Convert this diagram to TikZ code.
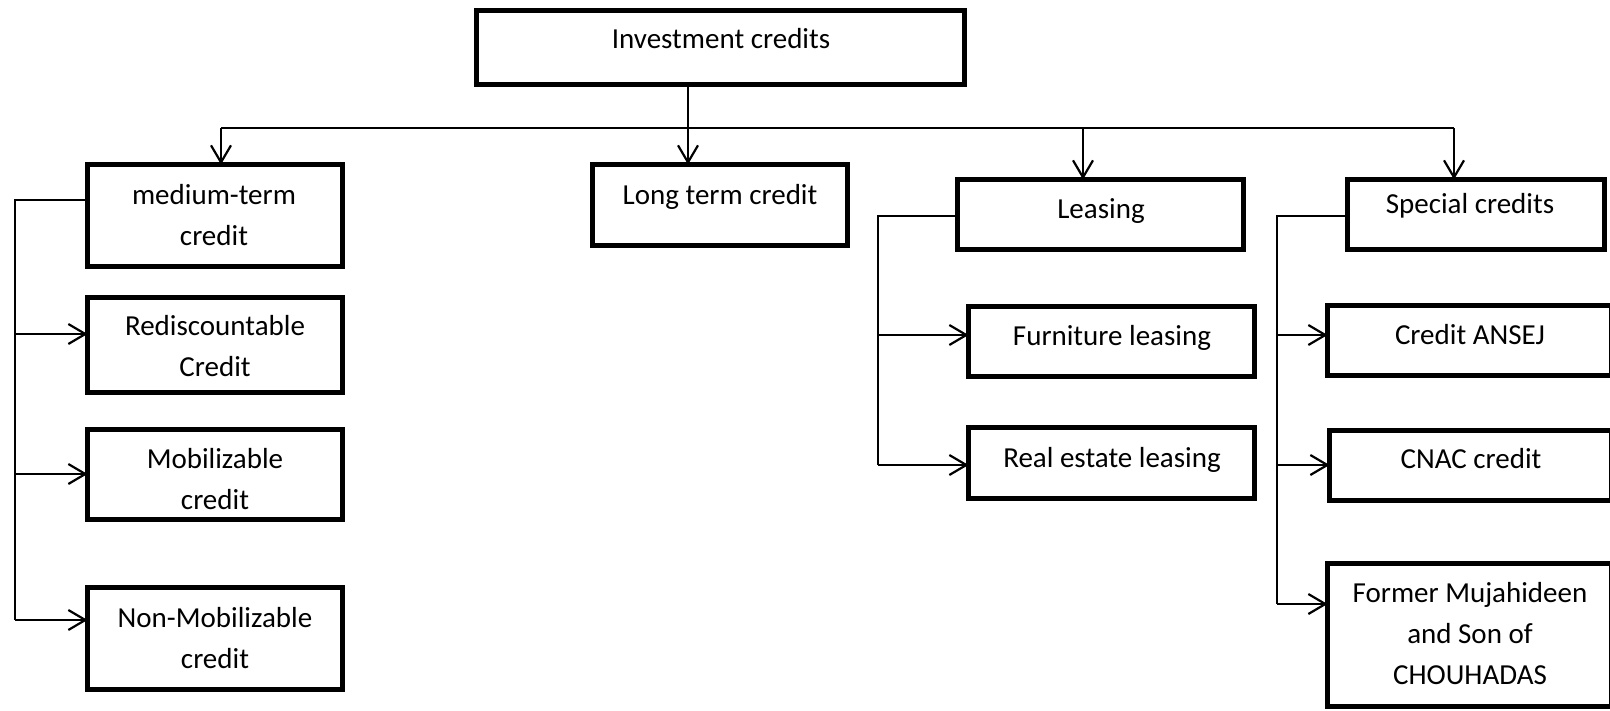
\documentclass[tikz,border=0pt]{standalone}
\usepackage{fontspec}
\setmainfont{Carlito}
\usetikzlibrary{arrows.meta}

% multi-line label whose reference point is the first baseline
\newcommand{\txtlines}[1]{\begin{tabular}[t]{@{}c@{}}#1\end{tabular}}

\tikzset{
  box/.style={draw=black, line width=5pt, inner sep=0pt, outer sep=0pt, fill=white},
  lbl/.style={inner sep=0pt, anchor=base, font=\fontsize{29}{41}\selectfont},
  link/.style={draw=black, line width=1.6pt},
  arr/.style={draw=black, line width=2.2pt,
    -{Straight Barb[length=17pt, width=20pt, line width=2.2pt]}},
}

\begin{document}
\begin{tikzpicture}[x=1pt, y=-1pt]
\useasboundingbox (0,0) rectangle (1610,710);

% ---- boxes ----
\node[box, minimum width=488pt, minimum height=74pt] (inv) at (720.5,47.5) {};
\node[box, minimum width=255pt, minimum height=102pt] (med) at (215,215.5) {};
\node[box, minimum width=255pt, minimum height=81pt] (long) at (720,205) {};
\node[box, minimum width=286pt, minimum height=70pt] (leas) at (1100.5,214.5) {};
\node[box, minimum width=257pt, minimum height=70pt] (spec) at (1476,214.5) {};

\node[box, minimum width=255pt, minimum height=95pt] (redisc) at (215,345) {};
\node[box, minimum width=255pt, minimum height=90pt] (mobil) at (215,474.5) {};
\node[box, minimum width=255pt, minimum height=102pt] (nonmob) at (215,638.5) {};

\node[box, minimum width=286pt, minimum height=70pt] (furn) at (1111.5,341.5) {};
\node[box, minimum width=286pt, minimum height=71pt] (real) at (1111.5,463) {};

\node[box, minimum width=284pt, minimum height=70pt] (ansej) at (1469.5,340.5) {};
\node[box, minimum width=282pt, minimum height=70pt] (cnac) at (1470.5,465.5) {};
\node[box, minimum width=284pt, minimum height=143pt] (former) at (1469.5,635) {};

% ---- labels ----
\node[lbl] (tinv) at (721,48) {Investment credits};
\node[lbl] (tmed) at (214,204) {\txtlines{medium-term\\credit}};
\node[lbl] (tlong) at (720,204) {Long term credit};
\node[lbl] (tleas) at (1101,218) {Leasing};
\node[lbl] (tspec) at (1470,213) {Special credits};
\node[lbl] (tredisc) at (215,335) {\txtlines{Rediscountable\\Credit}};
\node[lbl] (tmobil) at (215,468) {\txtlines{Mobilizable\\credit}};
\node[lbl] (tnonmob) at (215,627) {\txtlines{Non-Mobilizable\\credit}};
\node[lbl] (tfurn) at (1112,345) {Furniture leasing};
\node[lbl] (treal) at (1112,467) {Real estate leasing};
\node[lbl] (tansej) at (1470,344) {Credit ANSEJ};
\node[lbl] (tcnac) at (1471,468) {CNAC credit};
\node[lbl] (tformer) at (1470,602) {\txtlines{Former Mujahideen\\and Son of\\CHOUHADAS}};

% ---- top distribution bus ----
\coordinate (busL) at (221,128);
\coordinate (busLs) at (1083,128);
\coordinate (busR) at (1454,128);
\coordinate (drop) at (688,128);
\draw[link] (busL) -- (busR);
\draw[arr] ([xshift=-32.5pt]inv.south) -- (drop |- long.north);
\draw[arr] (busL) -- (busL |- med.north);
\draw[arr] (busLs) -- (busLs |- leas.north);
\draw[arr] (busR) -- (busR |- spec.north);

% ---- medium-term branch ----
\coordinate (mTop) at (15,200);
\coordinate (m1) at (15,334);
\coordinate (m2) at (15,474);
\coordinate (m3) at (15,620);
\draw[link] (mTop -| med.west) -- (mTop) -- (m3);
\draw[arr] (m1) -- (m1 -| redisc.west);
\draw[arr] (m2) -- (m2 -| mobil.west);
\draw[arr] (m3) -- (m3 -| nonmob.west);

% ---- leasing branch ----
\coordinate (lTop) at (878,216);
\coordinate (l1) at (878,335);
\coordinate (l2) at (878,465);
\draw[link] (lTop -| leas.west) -- (lTop) -- (l2);
\draw[arr] (l1) -- (l1 -| furn.west);
\draw[arr] (l2) -- (l2 -| real.west);

% ---- special credits branch ----
\coordinate (sTop) at (1277,216);
\coordinate (s1) at (1277,335);
\coordinate (s2) at (1277,465);
\coordinate (s3) at (1277,604);
\draw[link] (sTop -| spec.west) -- (sTop) -- (s3);
\draw[arr] (s1) -- (s1 -| ansej.west);
\draw[arr] (s2) -- (s2 -| cnac.west);
\draw[arr] (s3) -- (s3 -| former.west);
\end{tikzpicture}
\end{document}
